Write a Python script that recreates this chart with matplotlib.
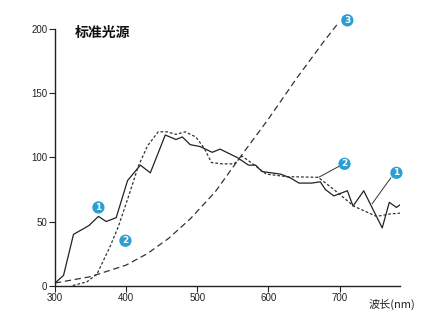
import numpy as np
import matplotlib.pyplot as plt

plt.rcParams['font.family'] = ['Noto Sans CJK SC', 'DejaVu Sans']

# curve 1 (solid)
wl1 = [300, 312, 326, 342, 348, 361, 372, 386, 402, 420, 434, 455, 470, 479, 490,
       504, 521, 532, 556, 572, 582, 591, 617, 631, 643, 661, 673, 680, 692, 711,
       719, 734, 760, 770, 780, 785]
v1 = [2, 8, 40, 45, 47, 54, 50, 53, 82, 94, 88, 117.5, 114, 116, 110,
      108.5, 104, 106.5, 100, 94, 94, 89, 87, 84, 80, 80, 81, 75, 70, 74,
      62, 74, 45, 65, 61, 63]

# curve 2 (short dashes)
wl2 = [325, 345, 359, 377, 389, 403, 417, 430, 445, 458, 470, 483, 498, 510, 520,
       535, 552, 563, 578, 597, 626, 670, 692, 720, 752, 772, 785]
v2 = [0, 3, 9, 30, 46, 69, 93, 109, 120, 120, 118, 120, 116, 107, 96,
      95, 95, 101, 95, 87, 85, 84.5, 75, 62, 54, 56, 56.5]

# curve 3 (long dashes)
wl3 = [300, 350, 400, 430, 460, 490, 525, 560, 600, 640, 680, 697]
v3 = [2, 7, 16, 25, 37, 52, 73, 100, 130, 162, 192, 204]

xticks = [300, 400, 500, 600, 700]
yticks = [0, 50, 100, 150, 200]

fig = plt.figure(figsize=(4.37, 3.21), dpi=100)
ax = fig.add_axes([0.1259, 0.1103, 0.7894, 0.7984])

ax.plot(wl1, v1, color='#222222', lw=0.9)
ax.plot(wl2, v2, color='#333333', lw=0.9, dashes=(2.2, 1.6))
ax.plot(wl3, v3, color='#333333', lw=0.9, dashes=(5, 3), clip_on=False)

ax.set_xlim(300, 785)
ax.set_ylim(0, 200)
ax.set_xticks(xticks)
ax.set_yticks(yticks)
for s in ['top', 'right']:
    ax.spines[s].set_visible(False)
for s in ['left', 'bottom']:
    ax.spines[s].set_linewidth(1.0)
    ax.spines[s].set_color('#222222')
ax.tick_params(labelsize=7, length=4, width=0.8, colors='#222222', pad=1.5)
for lab in ax.get_xticklabels() + ax.get_yticklabels():
    lab.set_family('Liberation Sans')

blue = '#2b9fd2'
def badge(x, y, n):
    ax.text(x, y, n, ha='center', va='center', fontsize=6.5, color='white',
            fontweight='bold', family='DejaVu Sans', clip_on=False,
            bbox=dict(boxstyle='circle,pad=0.18', fc=blue, ec='none'))

badge(361, 61, '1')
badge(399, 35, '2')
badge(707, 95, '2')
badge(780, 88, '1')
badge(711, 207, '3')

ax.plot([671, 699], [84.6, 93], color='#333333', lw=0.7)
ax.plot([746, 772], [64, 84], color='#333333', lw=0.7)

fig.text(75 / 437, 1 - 32.5 / 321, '标准光源', fontsize=10, fontweight='bold',
         va='center', ha='left', color='#111111')
fig.text(392 / 437, 1 - 304 / 321, '波长(nm)', fontsize=8, va='center',
         ha='center', color='#222222')

fig.savefig('out.png', dpi=100)
